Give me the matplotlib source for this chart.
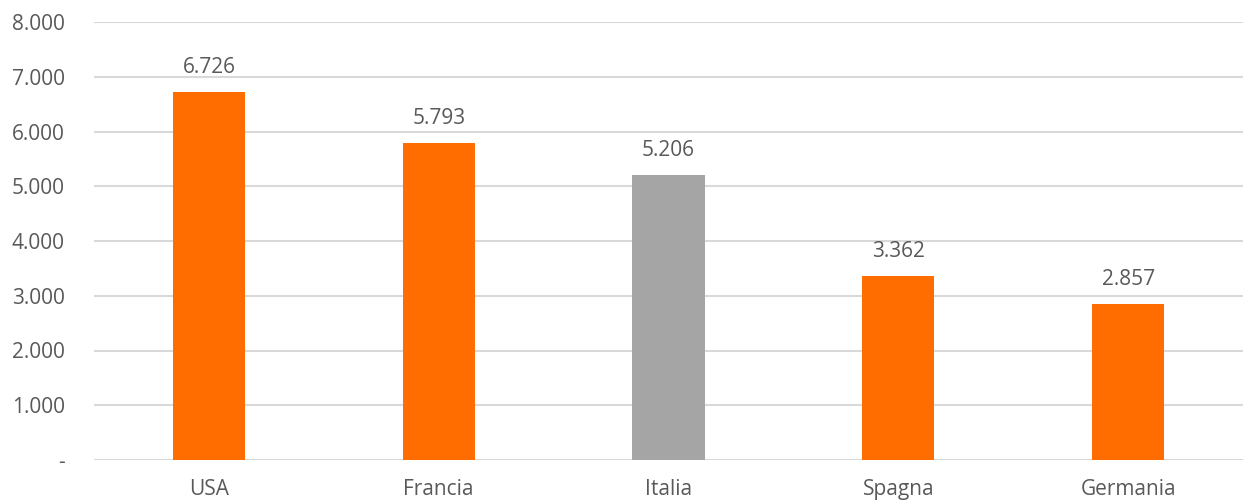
import matplotlib
matplotlib.use("Agg")
import matplotlib.pyplot as plt

categories = ["USA", "Francia", "Italia", "Spagna", "Germania"]
values = [6726, 5793, 5206, 3362, 2857]
highlight = "Italia"
y_ticks = [0, 1000, 2000, 3000, 4000, 5000, 6000, 7000, 8000]

ORANGE = "#FF6D00"
GREY_BAR = "#A5A5A5"
TEXT = "#595959"
GRID = "#D9D9D9"

def fmt(v):
    if v == 0:
        return "-"
    return f"{v:,.0f}".replace(",", ".")

plt.rcParams['font.family'] = ['Open Sans', 'DejaVu Sans']

fig = plt.figure(figsize=(12.43, 5.03), dpi=100)
ax = fig.add_axes([94/1243, 43/503, 1 - 94/1243, (460-22)/503])

x = range(len(categories))
colors = [GREY_BAR if c == highlight else ORANGE for c in categories]
bars = ax.bar(x, values, width=0.315, color=colors, zorder=3)

for xi, v in zip(x, values):
    ax.annotate(fmt(v), (xi, v), xytext=(0, 13.5), textcoords="offset points",
                ha="center", va="baseline", fontsize=15, color=TEXT)

ax.set_xlim(-0.5, len(categories) - 0.5)
ax.set_ylim(0, 8000)
ax.set_yticks(y_ticks)
ax.set_yticklabels([fmt(v) for v in y_ticks])
ax.set_xticks(list(x))
ax.set_xticklabels(categories)
ax.tick_params(axis="both", length=0, labelsize=15, labelcolor=TEXT)
ax.tick_params(axis="y", pad=21)
ax.tick_params(axis="x", pad=14)
for yv in y_ticks:
    ax.axhline(yv, color=GRID, linewidth=1.5, zorder=1)
for s in ax.spines.values():
    s.set_visible(False)

fig.savefig("out.png", dpi=100)
